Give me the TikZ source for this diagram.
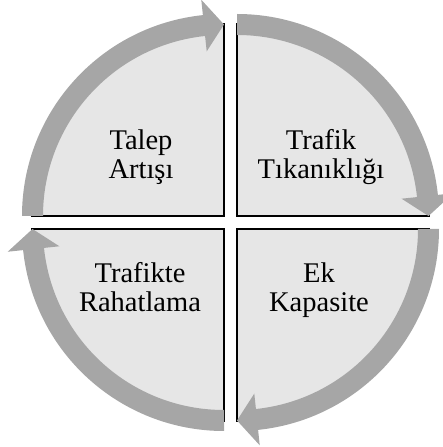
\documentclass[tikz,border=0pt]{standalone}
\usepackage{fontspec}
\setmainfont{Liberation Serif}
\usetikzlibrary{calc}
\definecolor{bandgray}{HTML}{A6A6A6}
\definecolor{wedgegray}{HTML}{E6E6E6}
\begin{document}
\begin{tikzpicture}[x=1pt,y=1pt,
  wedge/.style={fill=wedgegray},
  edgeline/.style={draw=black,line width=1.4pt},
  band/.style={fill=bandgray},
  celltext/.style={font=\fontsize{28.5}{29.5}\selectfont, align=center, anchor=base, inner sep=0pt}]
\useasboundingbox (0,0) rectangle (443,447);
\coordinate (c1) at (224,231);
\coordinate (c2) at (237,231);
\coordinate (c3) at (237,218);
\coordinate (c4) at (224,218);
\foreach \c/\a in {c1/180, c2/90, c3/0, c4/-90} {
  \fill[wedge] (\c) -- ($(\c)+(\a:193)$) arc[start angle=\a, end angle=\a-90, radius=193] -- cycle;
  \draw[edgeline] ($(\c)+(\a:193)$) -- (\c) -- ($(\c)+({\a-90}:193)$);
  \fill[band] ($(\c)+(\a:202)$) arc[start angle=\a, end angle=\a-84, radius=202]
    -- ($(\c)+({\a-84}:217.5)$) -- ($(\c)+({\a-90}:191.5)$) -- ($(\c)+({\a-84}:165.5)$)
    -- ($(\c)+({\a-84}:181)$) arc[start angle=\a-84, end angle=\a, radius=181] -- cycle;
}
\node[celltext] (t1) at (141,268) {Talep\\Artışı};
\node[celltext] (t2) at (321,268) {Trafik\\Tıkanıklığı};
\node[celltext] (t3) at (140,135) {Trafikte\\Rahatlama};
\node[celltext] (t4) at (319,135) {Ek\\Kapasite};
\end{tikzpicture}
\end{document}
